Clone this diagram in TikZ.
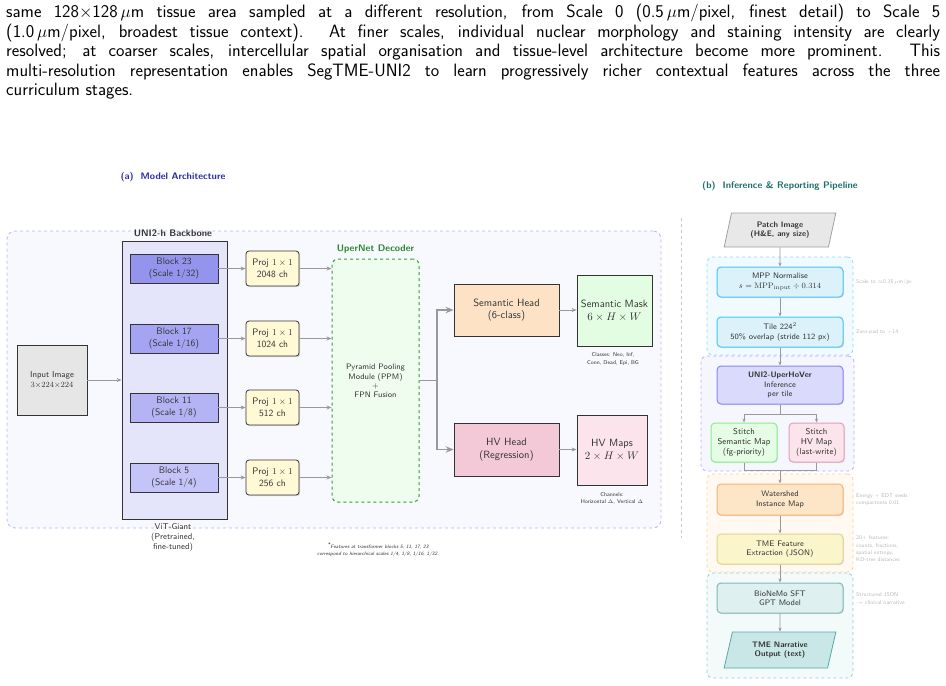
\documentclass[tikz,border=0pt]{standalone}
\usepackage{amsmath}
\usetikzlibrary{arrows.meta,shapes.geometric,shadows}
\newcommand\fsz[2]{\fontsize{#1}{#2}\selectfont}
\definecolor{outerfill}{HTML}{F8F8FF}
\definecolor{outerdraw}{HTML}{B4B4F4}
\definecolor{bbfill}{HTML}{E4E4FA}
\definecolor{blkA}{HTML}{9494EE}
\definecolor{blkB}{HTML}{A4A4F2}
\definecolor{blkC}{HTML}{B4B4F5}
\definecolor{blkD}{HTML}{C4C4F8}
\definecolor{inpfill}{HTML}{E6E6E6}
\definecolor{projfill}{HTML}{FFF9D6}
\definecolor{decfill}{HTML}{EFFDEF}
\definecolor{decdraw}{HTML}{33A033}
\definecolor{semfill}{HTML}{FDE2C6}
\definecolor{hvfill}{HTML}{F3C9D7}
\definecolor{maskfill}{HTML}{E2FDE2}
\definecolor{hvmfill}{HTML}{FBE4EC}
\definecolor{titleA}{HTML}{2A2AA8}
\definecolor{titleB}{HTML}{1E6E6E}
\definecolor{txt}{HTML}{333333}
\definecolor{arrcol}{HTML}{999999}
\definecolor{annot}{HTML}{B8B8B8}
\definecolor{cyfill}{HTML}{DCF2FB}
\definecolor{cydraw}{HTML}{4CC4F0}
\definecolor{cygfill}{HTML}{F0FAFF}
\definecolor{cygdraw}{HTML}{90D8F4}
\definecolor{unifill}{HTML}{DADAFC}
\definecolor{unidraw}{HTML}{8888F0}
\definecolor{lavgfill}{HTML}{F6F6FF}
\definecolor{lavgdraw}{HTML}{B0B0F4}
\definecolor{ssfill}{HTML}{E4FDE4}
\definecolor{ssdraw}{HTML}{88EE88}
\definecolor{shfill}{HTML}{FBE4EC}
\definecolor{shdraw}{HTML}{E0A0B8}
\definecolor{orgfill}{HTML}{FFF9F2}
\definecolor{orgdraw}{HTML}{FBD0A0}
\definecolor{wsfill}{HTML}{FDE5C8}
\definecolor{wsdraw}{HTML}{F5B470}
\definecolor{tmefill}{HTML}{FBF5CC}
\definecolor{tmedraw}{HTML}{E0D488}
\definecolor{tlgfill}{HTML}{F2FAFA}
\definecolor{tlgdraw}{HTML}{90CCCC}
\definecolor{bnfill}{HTML}{DFF0F0}
\definecolor{bndraw}{HTML}{80B8B8}
\definecolor{narfill}{HTML}{C9E7E6}
\definecolor{nardraw}{HTML}{5AA8A8}
\definecolor{patchfill}{HTML}{E8E8E8}
\definecolor{patchdraw}{HTML}{A0A0A0}
\begin{document}
\begin{tikzpicture}[x=1pt,y=-1pt,font=\sffamily,
  archbox/.style={draw=black!80, line width=0.8pt, align=center, inner sep=0pt, text=txt, font=\sffamily\fsz{9.5}{11.5}},
  projbox/.style={archbox, fill=projfill, rounded corners=3pt, minimum width=53pt, minimum height=35pt, drop shadow={opacity=0.25,shadow xshift=1.2pt,shadow yshift=-1.2pt}},
  blockbox/.style={archbox, minimum width=88pt, minimum height=29pt},
  arr/.style={-{Stealth[length=5pt,width=4pt]}, draw=arrcol, line width=0.8pt},
  bigarr/.style={-{Stealth[length=8pt,width=6.5pt]}, draw=arrcol, line width=1.6pt},
  pipe/.style={draw=arrcol, line width=0.7pt},
  parr/.style={pipe, -{Stealth[length=4pt,width=3.2pt]}},
  pbox/.style={rounded corners=4pt, line width=1pt, align=center, inner sep=0pt, text=txt, font=\sffamily\fsz{8}{9.5}, minimum width=126pt, minimum height=30pt, drop shadow={opacity=0.2,shadow xshift=1pt,shadow yshift=-1pt}},
  grp/.style={dashed, rounded corners=6pt, line width=0.8pt, minimum width=146pt, inner sep=0pt},
  annotext/.style={anchor=west, align=left, text=annot, inner sep=0pt, font=\sffamily\fsz{5.5}{7.3}},
  note/.style={align=center, text=txt, inner sep=0pt, font=\sffamily\fsz{5.5}{7.5}}
]
\useasboundingbox (0,0) rectangle (946,686);

% caption paragraph
\node[anchor=north west, text width=934pt, align=justify, inner sep=0pt, font=\sffamily\fsz{17.9}{19.5}] (para) at (6,4)
{same 128$\times$128\,$\mu$m tissue area sampled at a different resolution, from Scale 0 (0.5\,$\mu$m/pixel, finest detail) to Scale 5\linebreak
(1.0\,$\mu$m/pixel, broadest tissue context). At finer scales, individual nuclear morphology and staining intensity are clearly\linebreak
resolved; at coarser scales, intercellular spatial organisation and tissue-level architecture become more prominent. This\linebreak
multi-resolution representation enables SegTME-UNI2 to learn progressively richer contextual features across the three\linebreak
curriculum stages.};

% ---------- (a) ----------
\node[text=titleA, font=\sffamily\bfseries\fsz{9.5}{11}] (titleA) at (173,177) {(a)\ \ Model Architecture};
\node[draw=outerdraw, fill=outerfill, dashed, line width=0.8pt, rounded corners=8pt, minimum width=654pt, minimum height=297pt, inner sep=0pt] (outer) at (334,379.5) {};

\node[draw=black!80, fill=bbfill, line width=0.8pt, minimum width=105pt, minimum height=278pt, inner sep=0pt] (bb) at (174.5,380) {};
\node[font=\sffamily\bfseries\fsz{9.5}{11}, text=txt, inner sep=0pt] (bblabel) at (173,233.5) {UNI2-h Backbone};
\node[note, font=\sffamily\fsz{8.5}{10}] (vit) at (173,537.5) {ViT-Giant\\(Pretrained,\\fine-tuned)};

\node[blockbox, fill=blkA] (b23) at (174,268.5) {Block 23\\(Scale 1/32)};
\node[blockbox, fill=blkB] (b17) at (174,338.5) {Block 17\\(Scale 1/16)};
\node[blockbox, fill=blkC] (b11) at (174,407.5) {Block 11\\(Scale 1/8)};
\node[blockbox, fill=blkD] (b5) at (174,477.5) {Block 5\\(Scale 1/4)};

\node[archbox, fill=inpfill, minimum width=70pt, minimum height=70pt, font=\sffamily\fsz{8.5}{10}] (inp) at (52,380) {Input Image\\$3{\times}224{\times}224$};
\draw[arr] (inp.east) -- (bb.west |- inp.east);

\node[projbox] (p1) at (272.5,268.5) {Proj $1\times1$\\2048 ch};
\node[projbox] (p2) at (272.5,338.5) {Proj $1\times1$\\1024 ch};
\node[projbox] (p3) at (272.5,407.5) {Proj $1\times1$\\512 ch};
\node[projbox] (p4) at (272.5,477.5) {Proj $1\times1$\\256 ch};

\draw[arr] (b23.east) -- (p1.west);
\draw[arr] (b17.east) -- (p2.west);
\draw[arr] (b11.east) -- (p3.west);
\draw[arr] (b5.east) -- (p4.west);

\node[draw=decdraw, fill=decfill, dashed, line width=1pt, rounded corners=6pt, minimum width=87pt, minimum height=243pt, inner sep=0pt] (dec) at (375.5,380.5) {};
\node[align=center, text=txt, inner sep=0pt, font=\sffamily\fsz{8}{9.3}] (dectext) at (375.5,381) {Pyramid Pooling\\Module (PPM)\\+\\FPN Fusion};
\node[font=\sffamily\bfseries\fsz{9.5}{11}, text=decdraw!85!black, inner sep=0pt] (declabel) at (375.5,249) {UperNet Decoder};

\draw[arr] (p1.east) -- (dec.west |- p1.east);
\draw[arr] (p2.east) -- (dec.west |- p2.east);
\draw[arr] (p3.east) -- (dec.west |- p3.east);
\draw[arr] (p4.east) -- (dec.west |- p4.east);

\node[archbox, fill=semfill, minimum width=105pt, minimum height=52pt, font=\sffamily\fsz{10.5}{12.7}] (semh) at (506.5,310) {Semantic Head\\(6-class)};
\node[archbox, fill=hvfill, minimum width=105pt, minimum height=53pt, font=\sffamily\fsz{10.5}{12.7}] (hvh) at (506.5,449.5) {HV Head\\(Regression)};
\node[archbox, fill=maskfill, minimum width=75pt, minimum height=71pt, font=\sffamily\fsz{10.5}{12.7}] (mask) at (614.5,310.5) {Semantic Mask\\$6\times H\times W$};
\node[archbox, fill=hvmfill, minimum width=70pt, minimum height=70pt, font=\sffamily\fsz{10.5}{12.7}] (hvm) at (612,450) {HV Maps\\$2\times H\times W$};

\draw[draw=arrcol, line width=1.6pt] (dec.east |- 0,380.5) -- (437,380.5) coordinate (split);
\draw[bigarr] (split) |- (semh.west);
\draw[bigarr] (split) |- (hvh.west);
\draw[arr] (semh.east) -- (mask.west |- semh.east);
\draw[arr] (hvh.east) -- (hvm.west |- hvh.east);

\node[note] (classes) at (613,359) {Classes: Neo, Inf,\\Conn, Dead, Epi, BG};
\node[note] (chan) at (612,498.5) {Channels:\\Horizontal $\Delta$, Vertical $\Delta$};
\node[note, font=\sffamily\itshape\fsz{5}{6.5}] (foot) at (378,549.5) {\textsuperscript{*}Features at transformer blocks 5, 11, 17, 23\\correspond to hierarchical scales 1/4, 1/8, 1/16, 1/32.};

% separator
\draw[dashed, draw=black!22, line width=0.8pt] (681,218) coordinate (sepA) -- (681,538) coordinate (sepB);

% ---------- (b) ----------
\node[text=titleB, font=\sffamily\bfseries\fsz{9.5}{11}] (titleB) at (780,186) {(b)\ \ Inference \& Reporting Pipeline};

\node[grp, draw=cygdraw, fill=cygfill, minimum height=98pt] (gcy) at (780,306) {};
\node[grp, draw=lavgdraw, fill=lavgfill, minimum width=153pt, minimum height=115pt] (glav) at (777.5,413.5) {};
\node[grp, draw=orgdraw, fill=orgfill, minimum height=98pt] (gorg) at (780,523) {};
\node[grp, draw=tlgdraw, fill=tlgfill, minimum height=105pt] (gtl) at (780,625.5) {};

\node[trapezium, trapezium left angle=75, trapezium right angle=105, trapezium stretches=true, draw=patchdraw, fill=patchfill, line width=0.8pt, minimum width=112pt, minimum height=34pt, inner sep=0pt, align=center, text=txt, font=\sffamily\bfseries\fsz{8}{9.3}] (patch) at (780,230) {Patch Image\\(H\&E, any size)};

\node[pbox, draw=cydraw, fill=cyfill] (mpp) at (780,282) {MPP Normalise\\$s=\mathrm{MPP}_{\mathrm{input}}\div0.314$};
\node[pbox, draw=cydraw, fill=cyfill] (tile) at (780,332) {Tile 224$^2$\\50\% overlap (stride 112 px)};
\node[pbox, draw=unidraw, fill=unifill, minimum height=38pt] (uni) at (780,385) {\textbf{UNI2-UperHoVer}\\Inference\\per tile};
\node[pbox, draw=ssdraw, fill=ssfill, minimum width=66pt, minimum height=39pt, font=\sffamily\fsz{8.5}{10.2}] (ssem) at (744,442.5) {Stitch\\Semantic Map\\(fg-priority)};
\node[pbox, draw=shdraw, fill=shfill, minimum width=55pt, minimum height=39pt, font=\sffamily\fsz{8.5}{10.2}] (shv) at (816.5,442.5) {Stitch\\HV Map\\(last-write)};
\node[pbox, draw=wsdraw, fill=wsfill, minimum height=31pt] (ws) at (780,499.5) {Watershed\\Instance Map};
\node[pbox, draw=tmedraw, fill=tmefill] (tme) at (780,549) {TME Feature\\Extraction (JSON)};
\node[pbox, draw=bndraw, fill=bnfill] (bn) at (780,598) {BioNeMo SFT\\GPT Model};
\node[trapezium, trapezium left angle=74, trapezium right angle=106, trapezium stretches=true, draw=nardraw, fill=narfill, line width=0.8pt, minimum width=112pt, minimum height=36pt, inner sep=0pt, align=center, text=txt, font=\sffamily\bfseries\fsz{8}{9.3}] (nar) at (780,650) {TME Narrative\\Output (text)};

\draw[parr] (patch.south) -- (mpp.north);
\draw[parr] (mpp.south) -- (tile.north);
\draw[parr] (tile.south) -- (uni.north);
\draw[pipe] (uni.south) -- (780,414) coordinate (fork);
\draw[parr] (fork) -| (ssem.north);
\draw[parr] (fork) -| (shv.north);
\coordinate (merge) at (780,470);
\draw[pipe] (ssem.south) |- (merge);
\draw[pipe] (shv.south) |- (merge);
\draw[parr] (merge) -- (ws.north);
\draw[parr] (ws.south) -- (tme.north);
\draw[parr] (tme.south) -- (bn.north);
\draw[parr] (bn.south) -- (nar.north);

\node[annotext] (a1) at (856,282) {Scale to $\approx$0.35\,$\mu$m/px};
\node[annotext] (a2) at (856,332) {Zero-pad to $\div$14};
\node[annotext] (a3) at (856,499.5) {Energy + EDT seeds\\compactness 0.01};
\node[annotext] (a4) at (856,549) {20+ features:\\counts, fractions,\\spatial entropy,\\KD-tree distances};
\node[annotext] (a5) at (856,598.5) {Structured JSON\\$\to$ clinical narrative};
\end{tikzpicture}
\end{document}
